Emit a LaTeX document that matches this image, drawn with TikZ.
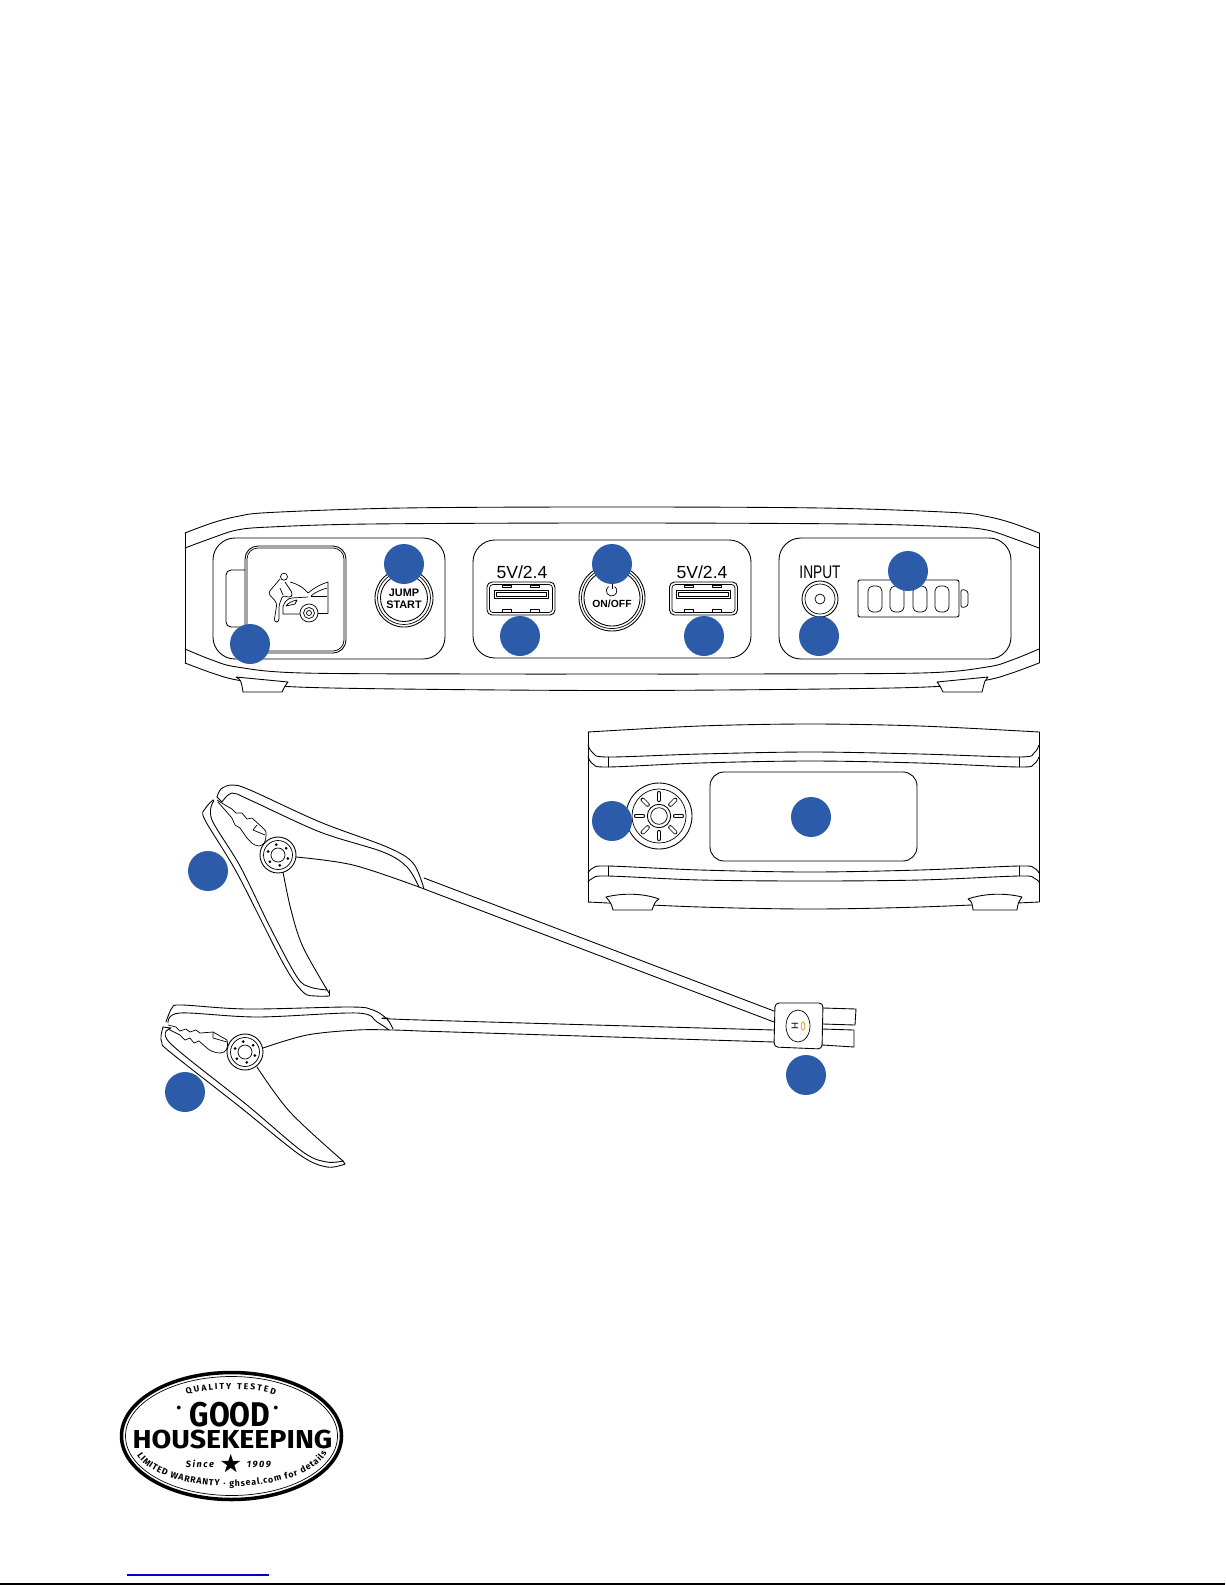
\documentclass[tikz,border=0pt]{standalone}
\usepackage{fontspec}
\setmainfont{Liberation Sans}
\newfontfamily\sealfont{Fira Sans}
\usetikzlibrary{shapes.geometric,decorations.text}
\definecolor{badgeblue}{HTML}{2C5BAA}
\definecolor{linkblue}{HTML}{0000CC}
\definecolor{ledorange}{HTML}{E5A93B}
\tikzset{
    outline/.style={draw=black, line width=0.5pt, line join=round, line cap=round},
    thinline/.style={draw=black, line width=0.4pt, line join=round},
    curve/.style={outline, smooth, tension=0.55},
    badge/.style={circle, fill=badgeblue, inner sep=0pt, minimum size=0.8cm},
    panel/.style={outline, rounded corners=0.44cm},
    door/.style={outline, rounded corners=0.26cm},
    cell/.style={thinline, rounded corners=0.1cm},
    print/.style={inner sep=0pt, font=\fontsize{10}{10}\selectfont},
    seal/.style={inner sep=0pt, text=black, font=\sealfont\bfseries}
}
\newcommand{\usbport}[1]{
    \begin{scope}[shift={(#1,0)}]
        \draw[outline, rounded corners=0.1cm] (0,582) rectangle (68,615);
        \draw[thinline, rounded corners=0.07cm] (2.5,584.5) rectangle (65.5,612.5);
        \draw[thinline] (7,590) rectangle (61,598);
        \draw[thinline] (9,592) rectangle (59,596);
        \foreach \px in {15,43} {
            \draw[thinline] (\px,585) rectangle ++(9,2);
            \draw[thinline] (\px,609) rectangle ++(9,3);
        }
    \end{scope}
}
\newcommand{\clamppivot}[2]{
    \begin{scope}[shift={(#1,#2)}]
        \draw[outline, fill=white] (0,0) circle[radius=18];
        \draw[thinline] (0,0) circle[radius=14.5];
        \draw[thinline] (0,0) circle[radius=7];
        \foreach \da in {20,80,...,320} {
            \fill[black] (\da:10.5) circle[radius=1.5];
        }
    \end{scope}
}
\begin{document}
\begin{tikzpicture}[x=0.02cm, y=-0.02cm]
    \useasboundingbox (0,0) rectangle (1225,1585);
    \draw[curve] plot coordinates {(185,533) (212,523) (237,516.5) (270,512.5) (403,508) (612,507) (821,508) (954,512.5) (987,516.5) (1012,523) (1039,533)};
    \draw[curve] plot coordinates {(185,548) (212,538) (237,530) (270,527) (370,524) (612,523) (854,524) (954,527) (987,530) (1012,538) (1039,548)};
    \draw[curve] plot coordinates {(185,649) (212,660) (237,667) (303,673) (503,674) (612,674) (721,674) (921,673) (987,667) (1012,660) (1039,649)};
    \draw[curve] plot coordinates {(185,663) (212,673) (237,680) (287,686.5) (400,689) (612,690.5) (824,689) (937,686.5) (987,680) (1012,673) (1039,663)};
    \draw[outline] (185,533) -- (185,663);
    \draw[outline] (1039,533) -- (1039,663);
    \draw[outline, fill=white] (236,677) .. controls (241,680) .. (243,692) -- (282,692) .. controls (285,686) .. (288,682) -- cycle;
    \draw[outline, fill=white] (988,677) .. controls (985,680) .. (982,692) -- (943,692) .. controls (940,686) .. (937,682) -- cycle;

    \draw[panel] (213,538) rectangle (445,659);
    \draw[panel] (473,540) rectangle (751,658);
    \draw[panel] (779,538) rectangle (1011,659);

    \draw[outline, rounded corners=0.1cm] (245,570) -- (226,570) -- (226,627) -- (245,627);
    \draw[door] (245,546) rectangle (346,653);
    \draw[thinline, rounded corners=0.22cm] (247,548) rectangle (344,651);

    \draw[thinline] (284,576.7) circle[radius=3.5];
    \draw[thinline, rounded corners=0.06cm] (280,579) -- (268,593) -- (277,603) -- (274,622) -- (279,622) -- (279,605) -- (283,595) -- (290,598) -- (293,594) -- (285,582);
    \draw[thinline] (280,588) -- (283,595);
    \draw[thinline] (290,582) .. controls (298,584) and (304,588) .. (308,593);
    \draw[thinline] (308,593) .. controls (314,588) and (321,584) .. (328,582) -- (328,613.5) -- (318,613.5);
    \draw[thinline] (311,596) .. controls (315,592) and (321,590) .. (327,588);
    \draw[thinline] (311,596) -- (327,596);
    \draw[thinline] (300,614) -- (283,614) -- (283,607) .. controls (284,602) and (288,598) .. (292,598) -- (308,597);
    \draw[thinline] (286,606) .. controls (288,603) and (292,601) .. (297,600) -- (295,604) -- (286,606);
    \draw[thinline] (309,613) circle[radius=9];
    \draw[thinline] (309,613) circle[radius=5.5];
    \draw[thinline] (309,613) circle[radius=2.5];

    \draw[outline] (404,598) circle[radius=29];
    \draw[thinline] (404,598) circle[radius=26.5];
    \draw[outline] (404,598) circle[radius=23.5];
    \node[print, font=\fontsize{6.2}{6.8}\selectfont\bfseries, align=center] (jumptext) at (404,598.5) {JUMP\\START};

    \node[print] (usbtextl) at (522,572) {5V/2.4};
    \node[print] (usbtextr) at (702,572) {5V/2.4};
    \usbport{487}
    \usbport{669.5}

    \draw[outline] (612,598) circle[radius=33];
    \draw[thinline] (612,598) circle[radius=30.5];
    \draw[outline] (612,598) circle[radius=28];
    \draw[thinline] (608.5,586.5) arc[start angle=125, end angle=415, radius=0.105cm];
    \draw[thinline] (612,583.5) -- (612,589);
    \node[print, font=\fontsize{5.9}{5.9}\selectfont\bfseries] (onofftext) at (612,603.5) {ON/OFF};

    \node[print, xscale=0.75, font=\fontsize{10.4}{10.4}\selectfont] (inputtext) at (820,572) {INPUT};
    \draw[outline] (820,599) circle[radius=18];
    \draw[thinline] (820,599) circle[radius=15];
    \draw[thinline] (820,599) circle[radius=5];

    \draw[outline, rounded corners=0.04cm] (858,580) rectangle (959,617);
    \foreach \cx in {868,890,913,935} {
        \draw[cell] (\cx,586) rectangle ++(14,26);
    }
    \draw[thinline, rounded corners=0.05cm] (961,589) -- (968,591) -- (968,606) -- (961,608) -- cycle;

    \draw[curve] plot coordinates {(588,732) (700,726) (810,724) (920,726) (1039,732)};
    \draw[outline] (588,732) -- (588,902);
    \draw[outline] (1039,732) -- (1039,902);
    \draw[curve] plot coordinates {(588,745) (593,753) (608,757) (700,754) (810,752) (920,754) (1019,757) (1034,753) (1039,745)};
    \draw[curve] plot coordinates {(588,757) (593,764) (608,767) (700,763) (810,761) (920,763) (1019,767) (1034,764) (1039,757)};
    \draw[curve] plot coordinates {(588,873) (593,868) (608,866) (700,870) (810,872) (920,870) (1019,866) (1034,868) (1039,873)};
    \draw[curve] plot coordinates {(588,882) (593,878) (608,876) (700,880) (810,881) (920,880) (1019,876) (1034,878) (1039,882)};
    \draw[curve] plot coordinates {(588,902) (700,907) (810,909) (920,907) (1039,902)};
    \draw[outline] (608,757) -- (608,767);
    \draw[outline] (1019,757) -- (1019,767);
    \draw[outline] (608,866) -- (608,876);
    \draw[outline] (1019,866) -- (1019,876);
    \draw[outline, fill=white] (606,897) .. controls (622,893) and (643,893) .. (659,899) .. controls (655,902) .. (652,910) -- (613,910) .. controls (611,903) .. (606,897) -- cycle;
    \draw[outline, fill=white] (1022,897) .. controls (1006,893) and (985,893) .. (968,899) .. controls (972,902) .. (973,910) -- (1017,910) .. controls (1018,903) .. (1022,897) -- cycle;

    \draw[outline] (659,816) circle[radius=33];
    \draw[thinline] (659,816) circle[radius=27];
    \draw[outline] (659,816) circle[radius=11.7];
    \draw[thinline] (659,816) circle[radius=8.3];
    \begin{scope}[shift={(659,816)}]
        \foreach \sa in {0,45,...,315} {
            \draw[black, line width=2.4pt, line cap=round] (\sa:16) -- (\sa:23);
            \draw[white, line width=1.6pt, line cap=round] (\sa:16) -- (\sa:23);
        }
    \end{scope}
    \draw[outline, rounded corners=0.28cm] (710,772) rectangle (917,861);

    \draw[curve] plot coordinates {(217,797) (221,789) (232,785) (250,790) (320,822) (387,847) (413,863) (424,889)};
    \draw[curve] plot coordinates {(222,802) (232,793) (250,800) (320,832) (383,852) (407,867) (419,887)};
    \draw[curve] plot coordinates {(296,857) (353,865) (419,887)};
    \draw[outline] (217,797) -- (222,802);
    \draw[curve] plot coordinates {(213,800) (205,809) (205,820) (237,873) (283,963) (303,992) (316,996) (329,996)};
    \draw[curve] plot coordinates {(213,802) (212,820) (240,866) (270,927) (297,977) (310,987) (327,990)};
    \draw[curve] plot coordinates {(283,872) (291,910) (303,947) (329,993)};
    \draw[outline] (329,990) -- (329,996);
    \draw[outline] (213,800) -- (213,802);
    \draw[thinline] (217,800) -- (225,805) -- (232,809) -- (236,813) -- (242,813) -- (247,819) -- (252,818) -- (263,828) .. controls (266,831) .. (266,835) .. controls (266,842) and (264,845) .. (259,846) -- (255,845) .. controls (251,843) and (249,840) .. (247,838) -- (240,828) -- (235,825) -- (232,818) -- (225,810) -- (218,802);
    \draw[thinline] (257,825) -- (253,830) -- (265,835);
    \clamppivot{278}{855}
    \draw[outline] (424,878) -- (774,1011);
    \draw[outline] (419,887) -- (774,1022);

    \draw[curve] plot coordinates {(166,1022) (172,1008) (182,1005) (247,1009) (350,1007) (373,1010) (387,1019) (393,1029)};
    \draw[curve] plot coordinates {(168,1023) (180,1013) (257,1017) (357,1013) (377,1022) (389,1030)};
    \draw[curve] plot coordinates {(263,1048) (307,1035) (357,1030) (393,1030) (420,1031)};
    \draw[curve] plot coordinates {(163,1027) (161,1036) (162,1043) (170,1052) (240,1107) (300,1155) (327,1167) (345,1164)};
    \draw[curve] plot coordinates {(171,1028) (170,1043) (247,1105) (303,1152) (327,1162) (343,1161)};
    \draw[curve] plot coordinates {(257,1067) (290,1112) (343,1161)};
    \draw[outline] (343,1161) -- (345,1164);
    \draw[outline] (163,1027) -- (171,1028);
    \draw[thinline] (168,1025) -- (176,1027) -- (180,1031) -- (186,1029) -- (190,1032) -- (196,1030) -- (200,1033) -- (213,1032) -- (227,1040);
    \draw[thinline] (213,1032) -- (213,1038) -- (227,1042);
    \draw[thinline] (227,1040) .. controls (229,1048) and (226,1053) .. (220,1053) .. controls (214,1053) and (209,1050) .. (207,1048) -- (199,1041) -- (194,1043) -- (190,1038) -- (185,1040) -- (180,1035) -- (168,1029);
    \clamppivot{245}{1052}
    \draw[curve] plot coordinates {(388,1018) (420,1020) (774,1030)};
    \draw[outline] (420,1031) -- (774,1042);

    \draw[outline, fill=white, rounded corners=0.08cm] (775,1003) -- (823,1003) -- (822,1049) -- (774,1047) -- cycle;
    \draw[outline] (823,1008) -- (856,1009) -- (855,1025) -- (823,1024);
    \draw[outline] (822,1029) -- (854,1030) -- (854,1047) -- (822,1045);
    \draw[thinline] (798,1026) ellipse[x radius=12, y radius=16];
    \node[print, rotate=-90, font=\fontsize{5.5}{5.5}\selectfont] (plugtext) at (795,1026) {H};
    \draw[draw=ledorange, line width=0.5pt] (803,1026) ellipse[x radius=1.8, y radius=4.3];

    \node[badge] (doorbadge) at (250,644) {};
    \node[badge] (jumpbadge) at (404,564) {};
    \node[badge] (usblbadge) at (520,636) {};
    \node[badge] (powerbadge) at (612,564) {};
    \node[badge] (usbrbadge) at (704,636) {};
    \node[badge] (inputbadge) at (819,636) {};
    \node[badge] (ledbadge) at (908,571) {};
    \node[badge] (wheelbadge) at (612,821) {};
    \node[badge] (labelbadge) at (811,817) {};
    \node[badge] (clampabadge) at (208,871) {};
    \node[badge] (clampbbadge) at (185,1092) {};
    \node[badge] (plugbadge) at (806,1075) {};

    \draw[black, line width=2pt] (231.5,1436) ellipse[x radius=110, y radius=63.5];
    \draw[black, line width=0.4pt] (231.5,1436) ellipse[x radius=106, y radius=59.5];
    \path[decorate, decoration={text along path, text align=fit to path, text={|\sealfont\bfseries\fontsize{4.9}{4.9}\selectfont|QUALITY TESTED}}] (187,1395) .. controls (205,1387) and (255,1387) .. (275,1395);
    \path[decorate, decoration={text along path, text align=fit to path, text={|\sealfont\bfseries\fontsize{5}{5}\selectfont|LIMITED WARRANTY · ghseal.com for details}}] (137,1455) .. controls (162,1497) and (302,1497) .. (327,1453);
    \node[seal, xscale=0.88, font=\sealfont\bfseries\fontsize{19.5}{19.5}\selectfont] (goodtext) at (230,1414.5) {GOOD};
    \node[seal, font=\sealfont\bfseries\fontsize{12}{12}\selectfont] (dotl) at (179,1410) {·};
    \node[seal, font=\sealfont\bfseries\fontsize{12}{12}\selectfont] (dotr) at (276,1410) {·};
    \node[seal, xscale=1.1, font=\sealfont\bfseries\fontsize{14.8}{14.8}\selectfont] (housetext) at (232.5,1439) {HOUSEKEEPING};
    \node[seal, font=\sealfont\bfseries\itshape\fontsize{5.2}{5.2}\selectfont] (sincetext) at (200,1464) {S\,i\,n\,c\,e};
    \node[seal, font=\sealfont\bfseries\itshape\fontsize{5.2}{5.2}\selectfont] (yeartext) at (259,1464) {1\,9\,0\,9};
    \node[star, star points=5, star point ratio=2.6, fill=black, inner sep=0pt, minimum size=0.4cm] (sealstar) at (230.7,1464) {};

    \draw[linkblue, line width=1pt] (127,1575) -- (269,1575);
    \draw[black, line width=1.2pt] (0,1584) -- (1225,1584);
\end{tikzpicture}
\end{document}
